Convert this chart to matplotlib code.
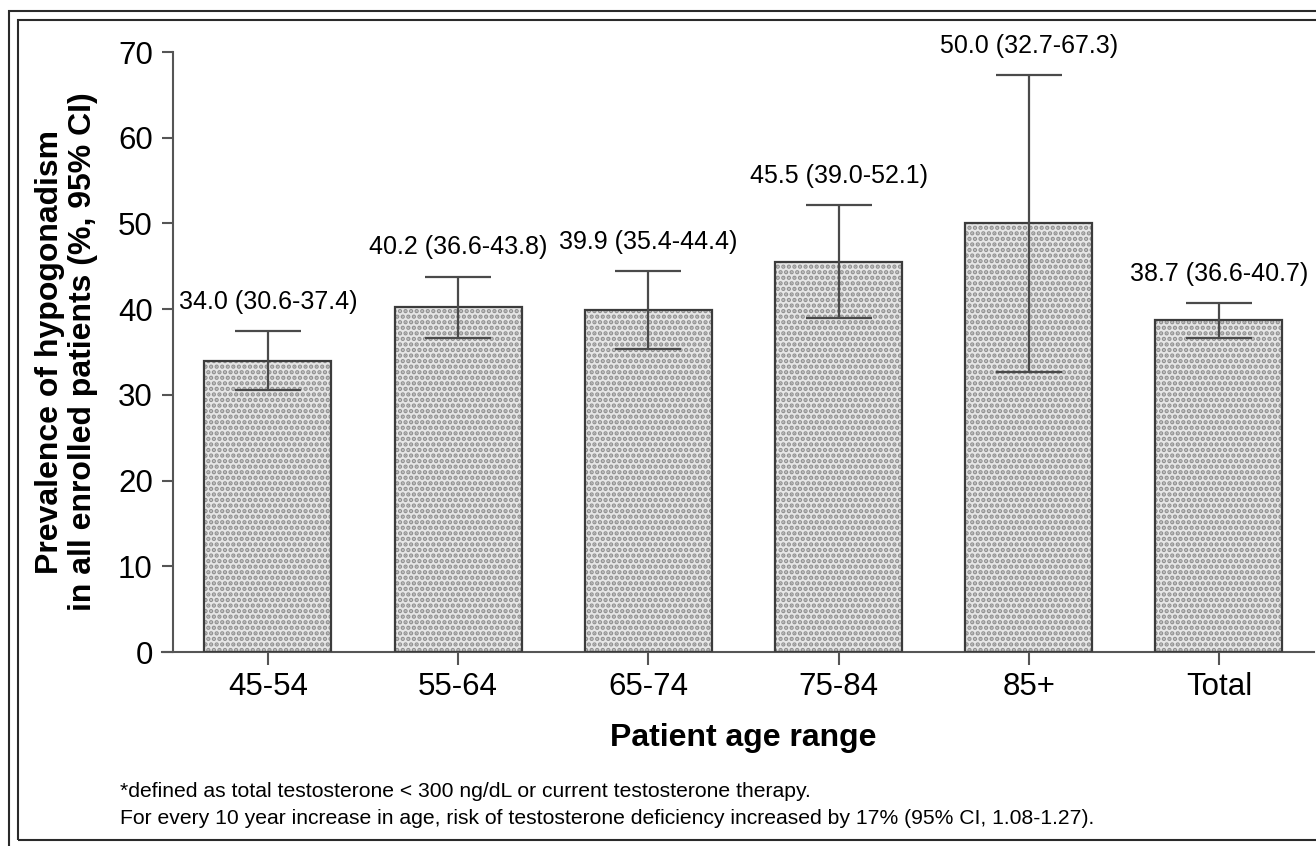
import matplotlib
matplotlib.use("Agg")
import matplotlib.pyplot as plt
from matplotlib.patches import Rectangle
import numpy as np

plt.rcParams['font.family'] = ['Liberation Sans', 'DejaVu Sans']
plt.rcParams['hatch.linewidth'] = 2.2

groups = ['45-54', '55-64', '65-74', '75-84', '85+', 'Total']
prevalence = [34.0, 40.2, 39.9, 45.5, 50.0, 38.7]
ci_low = [30.6, 36.6, 35.4, 39.0, 32.7, 36.6]
ci_high = [37.4, 43.8, 44.4, 52.1, 67.3, 40.7]
yticks = [0, 10, 20, 30, 40, 50, 60, 70]

footnote_1 = "*defined as total testosterone < 300 ng/dL or current testosterone therapy."
footnote_2 = ("For every 10 year increase in age, risk of testosterone deficiency "
              "increased by 17% (95% CI, 1.08-1.27).")

W, H = 1316, 846
fig = plt.figure(figsize=(W / 100, H / 100), dpi=100)
ax = fig.add_axes([162 / W, (H - 652) / H, (1314 - 162) / W, 600 / H])

x = np.arange(len(groups))
prev = np.array(prevalence)
yerr = [prev - np.array(ci_low), np.array(ci_high) - prev]

# dotted fill, then a dark outline on top
ax.bar(x, prev, width=0.668, color='#e6e6e6', hatch='...', edgecolor='#909090',
       linewidth=0, zorder=2)
ax.bar(x, prev, width=0.668, fill=False, edgecolor='#3c3c3c', linewidth=1.6, zorder=3)
ax.errorbar(x, prev, yerr=yerr, fmt='none', ecolor='#4a4a4a', elinewidth=1.6,
            capsize=24, capthick=1.6, zorder=4)

for i in range(len(groups)):
    ax.annotate(f"{prevalence[i]:.1f} ({ci_low[i]:.1f}-{ci_high[i]:.1f})",
                xy=(x[i], ci_high[i]), xytext=(0, 21), textcoords='offset points',
                ha='center', va='center', fontsize=18)

ax.set_xlim(-0.557, 5.5)
ax.set_ylim(0, 70)
ax.set_xticks(x)
ax.set_xticklabels(groups)
ax.set_yticks(yticks)

for side in ['top', 'right']:
    ax.spines[side].set_visible(False)
for side in ['left', 'bottom']:
    ax.spines[side].set_color('#555555')
    ax.spines[side].set_linewidth(1.5)
ax.spines['left'].set_position(('axes', 11 / 1152))

ax.tick_params(axis='y', direction='out', length=8, width=1.5, color='#555555',
               labelsize=22.5, pad=6.5)
ax.tick_params(axis='x', direction='out', length=9.4, width=1.5, color='#555555',
               labelsize=22.5, pad=5)

ax.set_xlabel("Patient age range", fontsize=23, fontweight='bold')
ax.xaxis.set_label_coords((743.5 - 162) / 1152, -0.118)
ax.set_ylabel("Prevalence of hypogonadism\nin all enrolled patients (%, 95% CI)",
              fontsize=23, fontweight='bold', linespacing=1.15)
ax.yaxis.set_label_coords((98 - 162) / 1152, 0.5)

fig.text(120 / W, 1 - 797 / H, footnote_1, fontsize=15.2, va='baseline')
fig.text(120 / W, 1 - 824 / H, footnote_2, fontsize=15.2, va='baseline')

# double frame around the figure
fig.add_artist(Rectangle((9 / W, -0.1), 1.2, 1.1 - 11 / H, transform=fig.transFigure,
                         fill=False, edgecolor='#2a2a2a', linewidth=1.5))
fig.add_artist(Rectangle((18 / W, 6 / H), 1.2, 1 - 26 / H, transform=fig.transFigure,
                         fill=False, edgecolor='#2a2a2a', linewidth=1.5))

fig.savefig("out.png", dpi=100, facecolor='white')
